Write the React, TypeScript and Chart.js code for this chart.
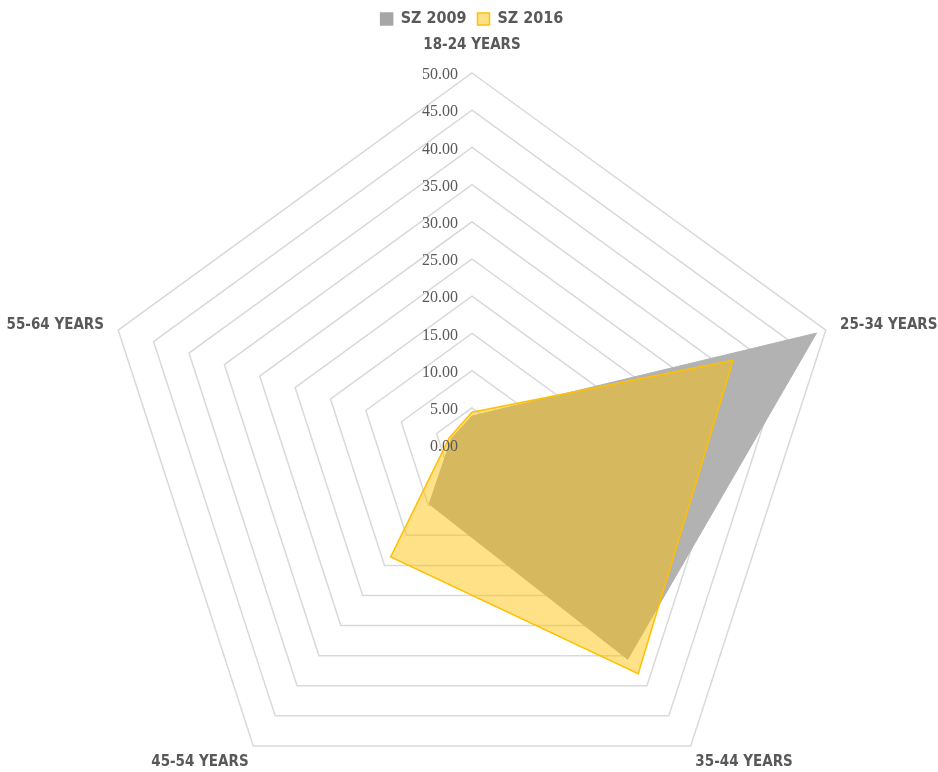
import React, { useEffect, useRef } from "react";
import { Chart, registerables } from "chart.js";

Chart.register(...registerables);

const categories = ["18-24 YEARS", "25-34 YEARS", "35-44 YEARS", "45-54 YEARS", "55-64 YEARS"];
const sz2009 = [3.9, 48.7, 35.6, 9.8, 2.9];
const sz2016 = [4.4, 36.9, 38.0, 18.6, 3.2];
const tickValues = [0, 5, 10, 15, 20, 25, 30, 35, 40, 45, 50];

const labelFont = '"DejaVu Sans Condensed", "Liberation Sans Narrow", "DejaVu Sans", sans-serif';

const labelPlugin = {
  id: "customLabels",
  afterDatasetsDraw(chart: any) {
    const scale = chart.scales.r;
    const ctx = chart.ctx;
    const r = scale.drawingArea;
    ctx.save();
    // tick labels, to the left of the vertical axis
    ctx.font = '16px "Liberation Serif", "Times New Roman", serif';
    ctx.fillStyle = "#595959";
    ctx.textAlign = "right";
    ctx.textBaseline = "middle";
    for (const v of tickValues) {
      const p = scale.getPointPositionForValue(0, v);
      ctx.fillText(v.toFixed(2), p.x - 14, p.y + 2);
    }
    // point labels
    ctx.font = "bold 15px " + labelFont;
    ctx.fillStyle = "#595959";
    ctx.textBaseline = "middle";
    categories.forEach((label, i) => {
      const a = scale.getIndexAngle(i);
      const s = Math.sin(a);
      const c = Math.cos(a);
      let p;
      let dy = 0;
      if (Math.abs(s) < 0.1) {
        p = scale.getPointPosition(i, r + 28);
        ctx.textAlign = "center";
      } else if (c >= 0) {
        p = scale.getPointPosition(i, r + 15);
        ctx.textAlign = s > 0 ? "left" : "right";
      } else {
        p = scale.getPointPosition(i, r + 8);
        ctx.textAlign = s > 0 ? "left" : "right";
        dy = 10;
      }
      ctx.fillText(label, p.x, p.y + dy);
    });
    ctx.restore();
  },
};

export default function App() {
  const ref = useRef<HTMLCanvasElement | null>(null);
  useEffect(() => {
    if (!ref.current) return;
    const chart = new Chart(ref.current, {
      type: "radar",
      data: {
        labels: categories,
        datasets: [
          {
            label: "SZ 2009",
            data: sz2009,
            backgroundColor: "#b2b2b2",
            borderColor: "#b2b2b2",
            borderWidth: 1,
            pointRadius: 0,
            fill: true,
            order: 1,
          },
          {
            label: "SZ 2016",
            data: sz2016,
            backgroundColor: "rgba(255,192,0,0.47)",
            borderColor: "#ffc000",
            borderWidth: 1.5,
            pointRadius: 0,
            fill: true,
            order: 0,
          },
        ],
      },
      options: {
        responsive: false,
        animation: false,
        layout: { padding: { top: 0, bottom: 0, left: 100, right: 94 } },
        plugins: {
          legend: {
            position: "top",
            labels: {
              boxWidth: 12,
              boxHeight: 12,
              padding: 11,
              color: "#595959",
              font: { family: labelFont, size: 16, weight: "bold" },
              generateLabels(chart: any) {
                return chart.data.datasets.map((d: any, i: number) => ({
                  text: d.label,
                  fillStyle: i === 0 ? "#a6a6a6" : "#ffe08a",
                  strokeStyle: i === 0 ? "#a6a6a6" : "#ffc000",
                  lineWidth: 1.5,
                  datasetIndex: i,
                  fontColor: "#595959",
                }));
              },
            },
          },
          tooltip: { enabled: false },
        },
        scales: {
          r: {
            min: 0,
            max: 50,
            ticks: { stepSize: 5, display: false },
            grid: { color: "#d9d9d9", lineWidth: 1.5 },
            angleLines: { display: false },
            pointLabels: { display: false },
          },
        },
      },
      plugins: [labelPlugin],
    });
    return () => chart.destroy();
  }, []);
  return (
    <div style={{ position: "fixed", left: 0, top: 0, width: 938, height: 772, overflow: "hidden", background: "#fff" }}>
      <canvas ref={ref} width={938} height={853} style={{ width: 938, height: 853, display: "block" }} />
    </div>
  );
}
